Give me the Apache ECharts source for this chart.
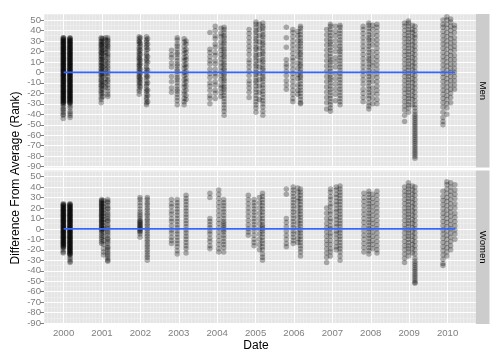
<!DOCTYPE html>
<html><head><meta charset="utf-8">
<script src="https://cdn.jsdelivr.net/npm/echarts@6/dist/echarts.min.js"></script>
<style>html,body{margin:0;padding:0;background:#fff}#c{width:504px;height:360px}</style>
</head><body><div id="c"></div>
<script>
// ---- tick labels / facets ----
const yTicks = [-90,-80,-70,-60,-50,-40,-30,-20,-10,0,10,20,30,40,50];
const yMinor = [-85,-75,-65,-55,-45,-35,-25,-15,-5,5,15,25,35,45,55];
const xTicks = [2000,2001,2002,2003,2004,2005,2006,2007,2008,2009,2010];
const panelNames = ['Men','Women'];
const smoothX = [2000.0, 2010.2];
const menSmoothY = [0, 0];
const womenSmoothY = [0, 0];

// ---- Men: columns of [date (decimal year), rank differences] ----
const men2000 = [
 [1999.99,[33,32,31,30,29,28,27,26,25,24,23,22,21,20,19,18,17,16,15,14,13,12,11,10,9,8,7,6,5,4,3,2,1,0,-1,-2,-3,-4,-5,-6,-7,-8,-9,-10,-11,-12,-13,-14,-15,-16,-17,-18,-19,-20,-21,-22,-23,-24,-25,-26,-27,-28,-29,-30,-31,-33,-35,-36,-38,-40,-41,-44]],
 [2000.0,[33,31.5,30,28.5,27,25.5,24,22.5,21,19.5,18,16.5,15,13.5,12,10.5,9,7.5,6,4.5,3,1.5,0,-1.5,-3,-4.5,-6,-7.5,-9,-10.5,-12,-13.5,-15,-16.5,-18,-19.5,-21,-22.5,-24,-25.5,-27,-28.5]],
 [2000.17,[33,32,31,30,29,28,27,26,25,24,23,22,21,20,19,18,17,16,15,14,13,12,11,10,9,8,7,6,5,4,3,2,1,0,-1,-2,-3,-4,-5,-6,-7,-8,-9,-10,-11,-12,-13,-14,-15,-16,-17,-18,-19,-20,-21,-22,-23,-24,-25,-26,-27,-28,-29,-30,-32,-34,-37,-39,-41,-43]],
 [2000.16,[32.5,31,29.5,28,26.5,25,23.5,22,20.5,19,17.5,16,14.5,13,11.5,10,8.5,7,5.5,4,2.5,1,-0.5,-2,-3.5,-5,-6.5,-8,-9.5,-11,-12.5,-14,-15.5,-17,-18.5,-20,-21.5,-23,-24.5,-26,-27.5,-29]]
];
const men2001 = [
 [2000.98,[33,32,30,29,27,26,25,23,22,20,19,18,16,15,13,12,10,9,7,6,4,3,1,0,-2,-3,-5,-7,-8,-10,-12,-13,-15,-17,-19,-21,-24,-26,-29]],
 [2001.02,[32,29,27,24,21,18,14,12,8,5,2,-1,-4,-9,-12,-16,-20,-23]],
 [2001.09,[33,31,26,22,19,16,11,7,3,-1,-6,-10,-14]],
 [2001.15,[33,31,30,28,26,25,23,21,18,16,14,11,9,6,4,1,-1,-4,-7,-9,-12,-15,-18,-21,-23]]
];
const men2002 = [
 [2001.97,[34,32,30,29,27,24,22,20,18,16,14,13,11,9,7,6,4,2,0,-2,-4,-5,-7,-9,-11,-13,-16,-18,-21]],
 [2002.0,[33,28,25,21,17,12,8,3,-1,-6,-10,-14]],
 [2002.16,[34,31,29,26,24,21,18,16,13,11,8,5,3,0,-3,-5,-8,-11,-13,-16,-18,-21,-24,-26,-29,-31]],
 [2002.19,[32,27,22,15,10,2,-4,-10,-17,-22,-28]]
];
const men2003 = [
 [2002.81,[21,17,14,9,5,-4,-9,-15,-19]],
 [2002.96,[33,31,27,25,22,19,17,14,11,8,6,3,1,-2,-5,-7,-10,-13,-16,-18,-21,-24,-27,-31]],
 [2003.14,[32,29,25,21,18,14,11,7,4,0,-3,-7,-11,-14,-18,-21,-25,-28,-31]],
 [2003.19,[30,27,22,19,15,12,8,5,1,-2,-6,-9,-13,-17,-22,-26]]
];
const men2004 = [
 [2003.81,[38,22,19,15,11,8,3,-1,-5,-10,-13,-17,-22,-25,-30]],
 [2003.95,[44,40,35,32,27,24,19,16,11,8,3,-1,-4,-9,-12,-17,-20,-25]],
 [2004.1,[42,37,34,29,25,21,17,13,9,5,1,-3,-7,-12,-15,-19,-23]],
 [2004.18,[43,41,38,35,33,30,28,25,22,20,17,15,12,9,7,4,2,-1,-3,-6,-8,-11,-14,-16,-19,-22,-25,-28,-31,-34,-37,-41]]
];
const men2005 = [
 [2004.83,[41,37,33,29,25,21,17,12,9,5,1,-3,-8,-11,-15,-19,-24]],
 [2005.01,[48,46,43,40,38,35,32,30,27,24,22,19,16,14,11,8,6,3,0,-2,-5,-8,-10,-13,-16,-19,-22,-25,-28,-31,-34,-38]],
 [2005.1,[46,41,35,29,23,17,11,5,-1,-7,-13,-19,-26]],
 [2005.19,[47,44,42,39,36,34,31,28,26,23,20,18,15,12,10,7,4,2,-1,-4,-6,-9,-12,-15,-18,-21,-24,-27,-30,-33,-37,-41]]
];
const men2006 = [
 [2005.8,[43,33,24,12,8,5,1,-3,-8,-12,-16]],
 [2005.97,[41,38,34,30,26,22,18,14,11,7,3,-1,-5,-9,-13,-17,-21,-25,-28]],
 [2006.1,[39,35,30,25,20,15,9,4,-2,-6,-12,-17,-21]],
 [2006.17,[44,42,39,36,33,30,28,25,22,19,17,14,11,8,6,3,0,-3,-5,-8,-11,-14,-17,-20,-23,-26,-29,-30]]
];
const men2007 = [
 [2006.85,[41,36,31,26,21,16,11,6,1,-4,-9,-14,-19,-24,-29,-35]],
 [2006.95,[46,44,41,38,35,32,29,27,24,21,18,15,12,10,7,4,1,-2,-5,-7,-10,-13,-16,-19,-22,-25,-28,-31,-34,-37]],
 [2007.08,[44,39,35,30,25,20,14,10,5,-1,-6,-11,-16,-21,-27]],
 [2007.2,[45,43,40,37,34,31,28,25,22,20,17,14,11,8,5,2,-1,-4,-7,-10,-13,-16,-19,-22,-25,-28,-31]]
];
const men2008 = [
 [2007.8,[44,41,37,33,29,25,21,17,13,9,5,1,-3,-7,-11,-16,-20,-24,-28]],
 [2007.95,[47,45,42,39,36,33,31,28,25,22,19,16,13,11,8,5,2,-1,-4,-7,-10,-13,-16,-19,-22,-25,-29,-32,-35]],
 [2008.05,[45,41,36,31,26,20,15,10,6,1,-4,-9,-15,-20,-25,-30]],
 [2008.16,[46,43,39,35,31,27,23,19,15,11,7,3,-1,-5,-9,-13,-17,-21,-26,-30]]
];
const men2009 = [
 [2008.88,[47,44,40,36,32,28,24,20,16,12,8,4,0,-4,-8,-12,-16,-20,-24,-28,-32,-36,-41,-47]],
 [2008.98,[49,47,44,41,38,35,32,29,26,23,20,17,14,11,8,5,2,-1,-4,-7,-10,-13,-16,-19,-22,-25,-28,-31,-34,-38]],
 [2009.08,[45,41,38,34,30,26,22,18,14,10,6,2,-2,-6,-10,-14,-18,-22,-26,-31]],
 [2009.15,[44,40,36,33,29,25,21,17,13,9,5,1,-3,-7,-11,-15,-19,-23,-27,-31,-34,-37,-40,-42,-44,-46,-48,-50,-52,-54,-56,-58,-60,-62,-64,-66,-68,-70,-72,-74,-76,-78,-80,-82]]
];
const men2010 = [
 [2009.88,[50,46,43,39,35,31,27,23,19,15,11,7,3,-1,-5,-9,-13,-17,-21,-25,-29,-33,-38,-43,-47,-50]],
 [2009.98,[53,50,46,42,38,34,30,26,22,18,14,10,6,2,-2,-6,-10,-14,-18,-22,-26,-30,-34,-40]],
 [2010.08,[51,48,44,40,36,32,28,24,20,16,12,8,4,0,-4,-8,-12,-16,-20,-24,-29]],
 [2010.18,[45,42,38,33,29,25,21,16,12,8,4,0,-4,-8,-12,-16]]
];

// ---- Women ----
const women2000 = [
 [1999.99,[24,23,22,21,20,19,18,17,16,15,14,13,12,11,10,9,8,7,6,5,4,3,2,1,0,-1,-2,-3,-4,-5,-6,-7,-8,-9,-10,-11,-12,-13,-14,-15,-16,-17,-18,-20,-22,-23]],
 [2000.0,[23.5,22,20.5,19,17.5,16,14.5,13,11.5,10,8.5,7,5.5,4,2.5,1,-0.5,-2,-3.5,-5,-6.5,-8,-9.5,-11,-12.5,-14,-15.5,-17]],
 [2000.17,[24,23,22,21,20,19,18,17,16,15,14,13,12,11,10,9,8,7,6,5,4,3,2,1,0,-1,-2,-3,-4,-5,-6,-7,-8,-9,-10,-11,-12,-13,-14,-15,-16,-17,-18,-19,-20,-21,-22,-23,-24,-25,-27,-29,-31,-32]],
 [2000.16,[23.5,22,20.5,19,17.5,16,14.5,13,11.5,10,8.5,7,5.5,4,2.5,1,-0.5,-2,-3.5,-5,-6.5,-8,-9.5,-11,-12.5,-14,-15.5,-17,-18.5,-20,-21.5,-23,-24.5]]
];
const women2001 = [
 [2000.99,[28,27,26,25,24,23,22,21,20,19,18,17,16,15,14,13,12,11,10,9,8,7,6,5,4,3,2,1,0,-1,-2,-4,-6,-8,-10,-12,-14]],
 [2001.04,[27,24,21,18,15,12,9,6,3,0,-3,-7,-11,-15,-19,-22,-25]],
 [2001.15,[28,26,25,22,20,19,16,14,12,10,8,7,4,2,0,-2,-4,-6,-9,-10,-12,-14,-17,-18,-20,-22,-24,-26,-28,-30,-31]]
];
const women2002 = [
 [2001.99,[30,28,25,22,19,16,14,12,10,8,7,6,5,4,3,2,1,0,-1,-2,-3,-5,-8]],
 [2002.18,[30,28,25,23,20,18,15,13,10,8,5,3,0,-2,-5,-7,-10,-12,-15,-17,-20,-22,-25,-27,-30]]
];
const women2003 = [
 [2002.81,[28,24,21,17,14,10,7,3,-1,-4,-8,-11,-14]],
 [2002.96,[28,25,22,19,16,13,10,7,4,1,-2,-5,-8,-11,-14,-17,-21,-24]],
 [2003.19,[32,29,26,23,20,17,14,11,8,5,2,-1,-4,-7,-10,-13,-16,-19,-23]]
];
const women2004 = [
 [2003.81,[34,30,10,7,4,1,-2,-5,-9,-12,-16,-19]],
 [2004.04,[37,33,29,25,21,17,13,9,5,1,-3,-7,-11,-15,-19,-22]],
 [2004.17,[28,25,22,19,16,13,10,7,5,3,1,-1,-3,-6,-9,-12,-15,-18,-22]]
];
const women2005 = [
 [2004.81,[32,28,24,20,16,12,8,4,0,-3,-6]],
 [2004.96,[28,25,22,19,16,13,10,7,4,1,-2,-6,-10,-13,-16]],
 [2005.1,[30,25,20,15,10,5,0,-5,-10,-15,-20]],
 [2005.18,[34,31,28,25,22,19,16,13,10,7,4,2,0,-2,-5,-8,-11,-14,-17,-20,-24,-27,-30]]
];
const women2006 = [
 [2005.8,[38,33,10,6,2,-2,-6,-10,-14,-17]],
 [2005.98,[40,37,34,31,28,25,22,19,16,13,10,7,4,1,-2,-5,-8,-11,-14]],
 [2006.1,[39,35,30,26,21,16,11,6,1,-4,-9,-13]],
 [2006.17,[38,35,32,29,26,23,20,17,14,11,8,5,2,-1,-4,-7,-10,-13,-16,-19,-22,-26]]
];
const women2007 = [
 [2006.85,[20,15,10,5,1,-3,-7,-11,-15,-19,-23,-27,-32]],
 [2006.95,[38,35,31,28,24,21,17,14,10,7,3,0,-4,-7,-11,-15,-19,-22,-26]],
 [2007.1,[40,37,33,30,26,23,19,16,12,9,5,2,-2,-5,-9,-13,-17,-20]],
 [2007.2,[41,38,35,32,29,26,23,20,17,14,11,8,5,2,-1,-4,-7,-10,-13,-16,-19,-22,-26,-30]]
];
const women2008 = [
 [2007.82,[34,30,26,22,18,14,10,6,2,-2,-6,-10,-14,-18,-22]],
 [2007.95,[36,33,30,27,24,21,18,15,12,9,6,3,0,-3,-6,-9,-12,-15,-18,-21,-24]],
 [2008.05,[33,29,25,21,17,13,9,5,1,-3,-7,-11,-15,-19]],
 [2008.16,[36,32,28,24,20,16,12,8,4,0,-4,-8,-12,-16,-20,-23]]
];
const women2009 = [
 [2008.88,[40,36,32,28,24,20,16,12,8,4,0,-4,-8,-12,-16,-20,-24,-28,-32]],
 [2008.98,[44,41,38,35,32,29,26,23,20,17,14,11,8,5,2,-1,-4,-7,-10,-13,-16,-19,-22,-26]],
 [2009.08,[41,37,33,29,25,21,17,13,9,5,1,-3,-7,-11,-15,-19,-23]],
 [2009.15,[40,36,32,28,24,20,16,12,8,4,0,-4,-8,-12,-16,-20,-24,-28,-31,-33,-35,-37,-39,-41,-43,-45,-47,-49,-51,-52]]
];
const women2010 = [
 [2009.88,[36,31,27,23,19,15,11,7,3,-1,-5,-9,-13,-17,-21,-25,-29,-33,-35]],
 [2009.98,[45,42,38,34,30,26,22,18,14,10,6,2,-2,-6,-10,-14,-18,-22,-26]],
 [2010.08,[44,40,36,32,28,24,20,16,12,8,4,0,-4,-8,-12,-16,-20]],
 [2010.19,[42,37,33,29,24,20,15,11,7,3,-1,-5,-10]]
];

const menCols = [].concat(men2000,men2001,men2002,men2003,men2004,men2005,men2006,men2007,men2008,men2009,men2010);
const womenCols = [].concat(women2000,women2001,women2002,women2003,women2004,women2005,women2006,women2007,women2008,women2009,women2010);

function toPoints(cols){ const out=[]; cols.forEach(c=>c[1].forEach(y=>out.push([c[0],y]))); return out; }

// ---- layout ----
const X_MIN = 1999.49, X_MAX = 2010.74, Y_MIN = -90.8, Y_MAX = 55.7;
const FONT = 'Liberation Sans, Arial, Helvetica, sans-serif';
const panelTop = [14, 170.5], panelH = 153.5, panelL = 44, panelW = 432;

const monthLines = [];
xTicks.concat([1999]).forEach(y => { for (let m = 1; m < 12; m++) { const v = y + m/12; if (v > X_MIN && v < X_MAX) monthLines.push(v); } });

const grid = [], xAxis = [], yAxis = [], series = [];
[0,1].forEach(i => {
  grid.push({left: panelL, top: panelTop[i], width: panelW, height: panelH, show: true, backgroundColor: '#E5E5E5', borderWidth: 0, containLabel: false});
  xAxis.push({type: 'value', gridIndex: i, min: X_MIN, max: X_MAX,
    axisLine: {show: false}, splitLine: {show: false},
    axisTick: {show: i === 1, customValues: xTicks, length: 4, lineStyle: {color: '#7F7F7F', width: 1}},
    axisLabel: {show: i === 1, customValues: xTicks, color: '#7F7F7F', fontSize: 9.6, fontFamily: FONT, margin: 4, formatter: v => String(Math.round(v))}});
  yAxis.push({type: 'value', gridIndex: i, min: Y_MIN, max: Y_MAX,
    axisLine: {show: false}, splitLine: {show: false},
    axisTick: {show: true, customValues: yTicks, length: 4, lineStyle: {color: '#7F7F7F', width: 1}},
    axisLabel: {customValues: yTicks, color: '#7F7F7F', fontSize: 9.6, fontFamily: FONT, margin: 3}});
  const mk = (arr, key, color, width, zz) => ({
    type: 'scatter', xAxisIndex: i, yAxisIndex: i, data: [], silent: true, z: zz,
    markLine: {silent: true, z: zz, symbol: ['none','none'], animation: false, label: {show: false}, emphasis: {disabled: true},
      lineStyle: {color: color, width: width, type: 'solid'}, data: arr.map(v => ({[key]: v}))}
  });
  series.push(mk(monthLines, 'xAxis', '#F2F2F2', 0.5, 1));
  series.push(mk(yMinor, 'yAxis', '#F2F2F2', 0.5, 1));
  series.push(mk(xTicks, 'xAxis', '#FFFFFF', 1.1, 2));
  series.push(mk(yTicks, 'yAxis', '#FFFFFF', 1.1, 2));
  series.push({type: 'scatter', name: panelNames[i], xAxisIndex: i, yAxisIndex: i, z: 10,
    data: toPoints(i === 0 ? menCols : womenCols), symbol: 'circle', symbolSize: 5.5, large: false, progressive: 0,
    itemStyle: {color: 'rgba(0,0,0,0.36)'}, emphasis: {disabled: true}});
  const sy = i === 0 ? menSmoothY : womenSmoothY;
  series.push({type: 'line', xAxisIndex: i, yAxisIndex: i, z: 12, showSymbol: false, symbol: 'none',
    data: smoothX.map((x, k) => [x, sy[k]]), lineStyle: {color: '#3366FF', width: 1.8}, emphasis: {disabled: true}});
});

const graphic = [];
[0,1].forEach(i => {
  graphic.push({type: 'rect', left: panelL + panelW, top: panelTop[i], shape: {width: 13.5, height: panelH}, style: {fill: '#CCCCCC'}});
  graphic.push({type: 'text', x: panelL + panelW + 7, y: panelTop[i] + panelH/2, rotation: -Math.PI/2,
    style: {text: panelNames[i], fill: '#000', font: '9.6px ' + FONT, align: 'center', verticalAlign: 'middle'}});
});
graphic.push({type: 'text', x: 256, y: 346, style: {text: 'Date', fill: '#000', font: '12px ' + FONT, align: 'center', verticalAlign: 'middle'}});
graphic.push({type: 'text', x: 16, y: 178, rotation: Math.PI/2,
  style: {text: 'Difference From Average (Rank)', fill: '#000', font: '12px ' + FONT, align: 'center', verticalAlign: 'middle'}});

const chart = echarts.init(document.getElementById('c'), null, {renderer: 'canvas'});
chart.setOption({animation: false, backgroundColor: '#FFFFFF', grid, xAxis, yAxis, series, graphic});
</script></body></html>
